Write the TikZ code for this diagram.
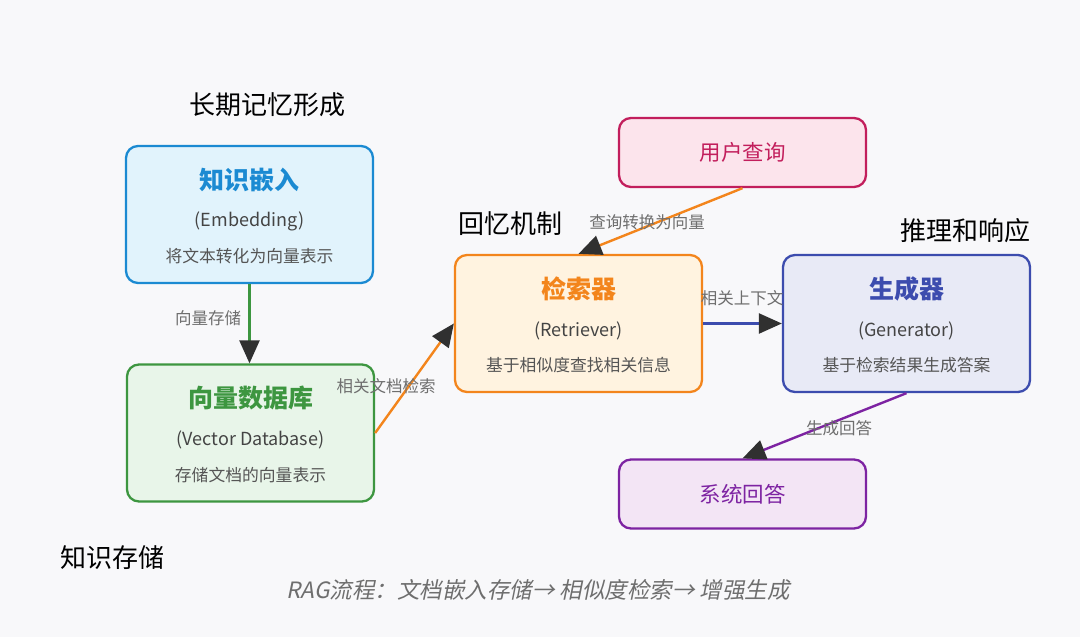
\documentclass[tikz,border=0pt]{standalone}
\usepackage{fontspec}
\setmainfont{Noto Sans CJK SC}
\newfontfamily\slantfont[FakeSlant=0.2]{Noto Sans CJK SC}
\usepackage{tikz}
\usetikzlibrary{arrows.meta,positioning,calc}
\definecolor{bggray}{RGB}{248,248,250}
\definecolor{embedblue}{RGB}{27,138,210}
\definecolor{embedfill}{RGB}{225,243,252}
\definecolor{dbgreen}{RGB}{61,150,64}
\definecolor{dbfill}{RGB}{232,245,233}
\definecolor{retrorange}{RGB}{243,133,28}
\definecolor{retrfill}{RGB}{255,243,224}
\definecolor{genindigo}{RGB}{60,76,174}
\definecolor{genfill}{RGB}{232,234,246}
\definecolor{querypink}{RGB}{194,30,92}
\definecolor{queryfill}{RGB}{252,228,236}
\definecolor{answerpurple}{RGB}{125,35,162}
\definecolor{answerfill}{RGB}{243,229,245}
\definecolor{subgray}{RGB}{68,68,68}
\definecolor{descgray}{RGB}{85,85,85}
\definecolor{labelgray}{RGB}{110,110,110}
\definecolor{tipgray}{RGB}{48,48,48}
\tikzset{
  stage/.style={rectangle,rounded corners=12pt,line width=2.3pt,minimum width=247pt,minimum height=137pt},
  smallstage/.style={rectangle,rounded corners=12pt,line width=2.3pt,minimum width=247pt,minimum height=69pt,font=\fontsize{21.5}{25}\selectfont},
  boxhead/.style={font=\fontsize{25}{29}\selectfont\bfseries},
  boxsub/.style={font=\fontsize{18}{21}\selectfont,text=subgray},
  boxdesc/.style={font=\fontsize{16.8}{19}\selectfont,text=descgray},
  phasetitle/.style={font=\fontsize{26}{30}\selectfont,text=black},
  edgelabel/.style={font=\fontsize{16.5}{19}\selectfont,text=labelgray,inner sep=1pt},
  flow/.style={-{Triangle[length=23pt,width=20pt,color=tipgray]},line width=2.4pt}
}

\begin{document}
\begin{tikzpicture}[x=1pt,y=-1pt]
  \fill[bggray] (0,0) rectangle (1080,637);
  \useasboundingbox (0,0) rectangle (1080,637);

  % phase titles
  \node[phasetitle] (longterm) at (267,105) {长期记忆形成};
  \node[phasetitle] (recall) at (510,224) {回忆机制};
  \node[phasetitle] (reason) at (965,231) {推理和响应};
  \node[phasetitle] (storage) at (112,558) {知识存储};

  % knowledge embedding
  \node[stage,draw=embedblue,fill=embedfill] (embed) at (249.5,214.5) {};
  \node[boxhead,text=embedblue] (embedhead) at ([yshift=35pt]embed.center) {知识嵌入};
  \node[boxsub] (embedsub) at ([yshift=-7pt]embed.center) {(Embedding)};
  \node[boxdesc] (embeddesc) at ([yshift=-42pt]embed.center) {将文本转化为向量表示};

  % vector database
  \node[stage,draw=dbgreen,fill=dbfill] (vecdb) at (250.5,433) {};
  \node[boxhead,text=dbgreen] (vecdbhead) at ([yshift=35pt]vecdb.center) {向量数据库};
  \node[boxsub] (vecdbsub) at ([yshift=-7pt]vecdb.center) {(Vector Database)};
  \node[boxdesc] (vecdbdesc) at ([yshift=-42pt]vecdb.center) {存储文档的向量表示};

  % retriever
  \node[stage,draw=retrorange,fill=retrfill] (retriever) at (578.5,323.5) {};
  \node[boxhead,text=retrorange] (retrhead) at ([yshift=35pt]retriever.center) {检索器};
  \node[boxsub] (retrsub) at ([yshift=-7pt]retriever.center) {(Retriever)};
  \node[boxdesc] (retrdesc) at ([yshift=-42pt]retriever.center) {基于相似度查找相关信息};

  % generator
  \node[stage,draw=genindigo,fill=genfill] (generator) at (906.5,323.5) {};
  \node[boxhead,text=genindigo] (genhead) at ([yshift=35pt]generator.center) {生成器};
  \node[boxsub] (gensub) at ([yshift=-7pt]generator.center) {(Generator)};
  \node[boxdesc] (gendesc) at ([yshift=-42pt]generator.center) {基于检索结果生成答案};

  % query and answer
  \node[smallstage,draw=querypink,fill=queryfill,text=querypink] (query) at (742.5,152.5) {用户查询};
  \node[smallstage,draw=answerpurple,fill=answerfill,text=answerpurple] (answer) at (742.5,494) {系统回答};

  % connectors
  \draw[flow,dbgreen] (embed.south) -- (embed.south |- vecdb.north);
  \draw[flow,retrorange] (vecdb.east) -- (retriever.west);
  \draw[flow,retrorange] (query.south) -- (retriever.north);
  \draw[flow,genindigo] (retriever.east) -- (generator.west);
  \draw[flow,answerpurple] (generator.south) -- (answer.north);

  \node[edgelabel] (lblstore) at (208,318) {向量存储};
  \node[edgelabel] (lblsearch) at (386,386) {相关文档检索};
  \node[edgelabel] (lblquery) at (647,222) {查询转换为向量};
  \node[edgelabel] (lblcontext) at (742,298) {相关上下文};
  \node[edgelabel] (lblanswer) at (839,428) {生成回答};

  \node[font=\fontsize{22.5}{26}\selectfont\slantfont,text=labelgray] (footer) at (538,590) {RAG流程：文档嵌入存储→ 相似度检索→ 增强生成};
\end{tikzpicture}
\end{document}
